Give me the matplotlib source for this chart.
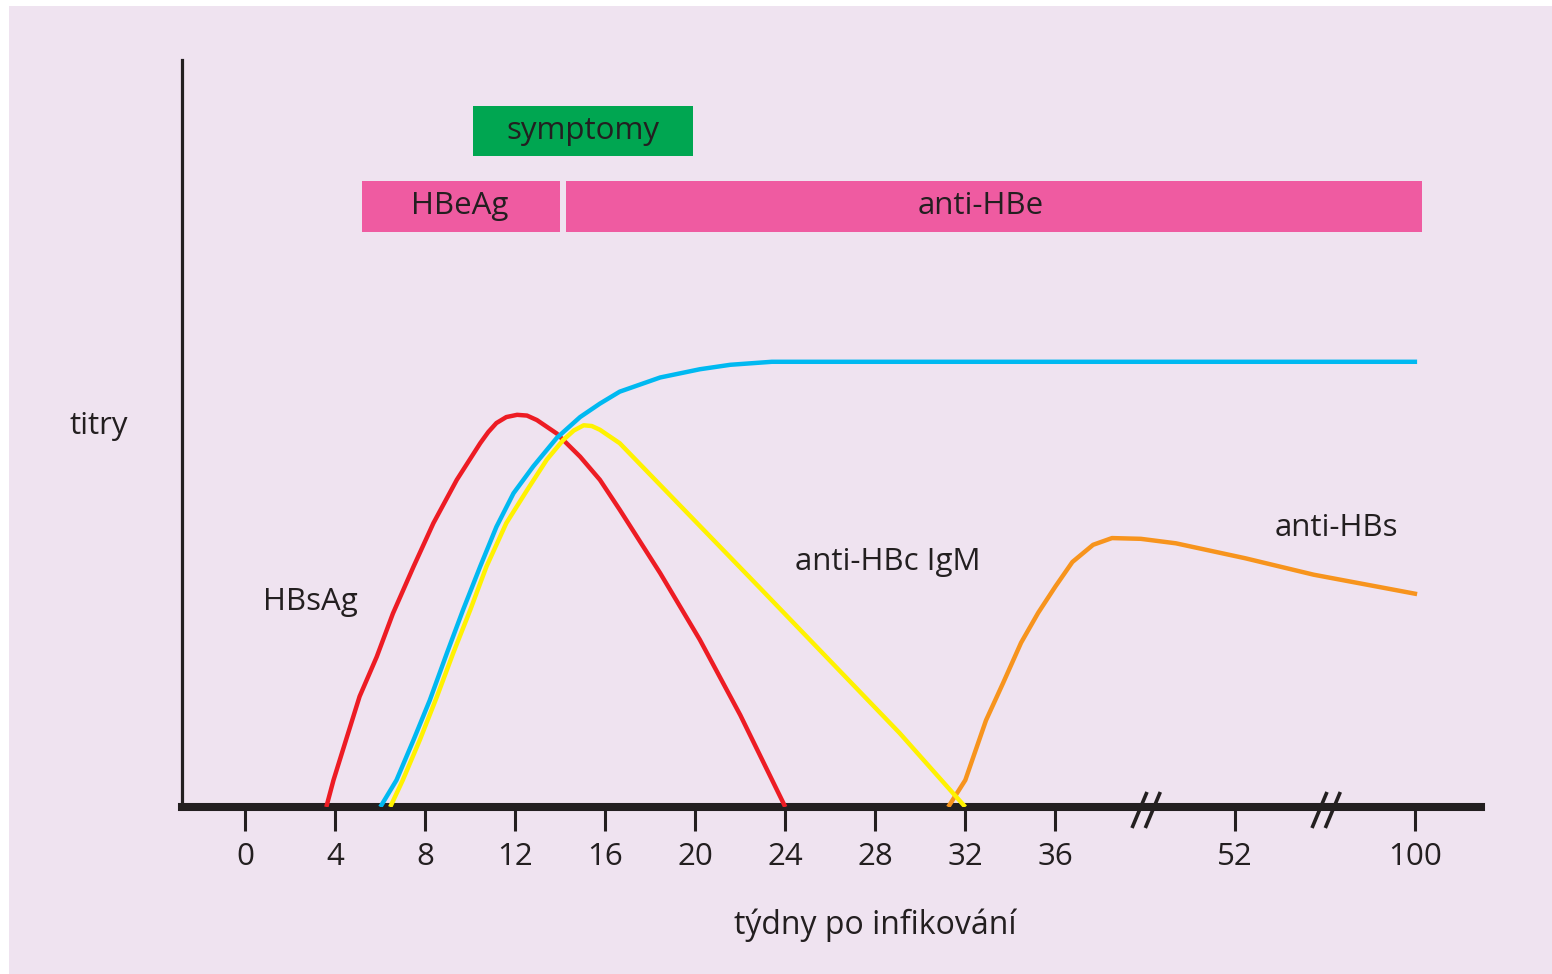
import matplotlib.pyplot as plt
from matplotlib.patches import Rectangle

plt.rcParams['font.family'] = ['Open Sans', 'DejaVu Sans']

# x is in axis-slot units (the axis is broken after 36 weeks), y is relative titre 0-100
tick_pos = [0, 1, 2, 3, 4, 5, 6, 7, 8, 9, 11, 13]
tick_labels = ['0', '4', '8', '12', '16', '20', '24', '28', '32', '36', '52', '100']
break_pos = [10, 12]

hbsag_x = [0.90, 0.98, 1.13, 1.27, 1.46, 1.64, 1.87, 2.09, 2.35, 2.61, 2.70, 2.79, 2.90,
           3.02, 3.13, 3.24, 3.46, 3.72, 3.94, 4.16, 4.61, 5.05, 5.50, 6.00]
hbsag_y = [0, 3.6, 9.4, 14.8, 20.1, 25.9, 32.2, 38.0, 43.8, 48.7, 50.2, 51.4, 52.2,
           52.5, 52.4, 51.8, 50.0, 46.9, 43.8, 39.8, 31.3, 22.4, 12.3, 0]

antihbc_x = [1.50, 1.68, 1.87, 2.05, 2.24, 2.42, 2.61, 2.79, 2.98, 3.20, 3.46, 3.72, 3.94,
             4.16, 4.61, 5.05, 5.39, 5.85, 13.02]
antihbc_y = [0, 3.6, 9.0, 14.3, 20.6, 26.4, 32.2, 37.5, 42.0, 45.6, 49.4, 52.2, 54.0,
             55.6, 57.5, 58.6, 59.2, 59.6, 59.6]

igm_x = [1.61, 1.75, 1.94, 2.13, 2.31, 2.50, 2.68, 2.90, 3.13, 3.35, 3.53, 3.65, 3.76,
         3.85, 3.94, 4.16, 5.72, 7.27, 8.00]
igm_y = [0, 3.6, 9.0, 14.8, 20.6, 26.4, 32.2, 38.0, 42.4, 46.5, 49.1, 50.4, 51.1,
         51.0, 50.5, 48.7, 29.3, 9.9, 0]

antihbs_x = [7.81, 8.00, 8.23, 8.42, 8.62, 8.81, 9.00, 9.19, 9.42, 9.63, 9.95, 10.34,
             11.11, 11.87, 13.02]
antihbs_y = [0, 3.6, 11.6, 16.6, 22.0, 26.0, 29.5, 32.8, 35.1, 36.0, 35.9, 35.3,
             33.3, 31.1, 28.5]

bar_labels = ['symptomy', 'HBeAg', 'anti-HBe']
bar_start = [2.53, 1.30, 3.56]
bar_end = [4.97, 3.50, 13.07]
bar_text_x = [3.75, 2.38, 8.17]
bar_row = [90.5, 80.4, 80.4]
bar_colors = ['#00A651', '#EF5BA1', '#EF5BA1']

bg = '#EFE3F0'
ink = '#231F20'
fs = 22.5

W, H = 1552, 974
fig = plt.figure(figsize=(15.52, 9.74), dpi=100)
fig.patch.set_facecolor('white')
fig.patches.append(Rectangle((9 / W, 0), 1, 1 - 6 / H, transform=fig.transFigure,
                             facecolor=bg, edgecolor='none', zorder=-10))

ax = fig.add_axes([182 / W, (H - 807) / H, (1481 - 182) / W, (807 - 60) / H])
ax.patch.set_alpha(0)
ax.set_xlim((182 - 245.3) / 90, (1481 - 245.3) / 90)
ax.set_ylim(0, 100)

for s in ['top', 'right']:
    ax.spines[s].set_visible(False)
ax.spines['left'].set_linewidth(2.3)
ax.spines['left'].set_color(ink)
ax.spines['bottom'].set_linewidth(5.8)
ax.spines['bottom'].set_color(ink)
ax.spines['bottom'].set_zorder(1)

ax.set_xticks(tick_pos)
ax.set_xticklabels(tick_labels)
ax.set_yticks([])
ax.tick_params(axis='x', length=17, width=2.2, color=ink, pad=8,
               labelsize=fs, labelcolor=ink)

lw = 3.2
style = dict(lw=lw, solid_capstyle='butt', solid_joinstyle='round')
ax.plot(hbsag_x, hbsag_y, color='#ED1C24', zorder=3, **style)
ax.plot(igm_x, igm_y, color='#FFF200', zorder=4, **style)
ax.plot(antihbc_x, antihbc_y, color='#00B9F1', zorder=3, **style)
ax.plot(antihbs_x, antihbs_y, color='#F7941D', zorder=3, **style)

bar_h = 6.8
for lab, x0, x1, tx, yr, c in zip(bar_labels, bar_start, bar_end, bar_text_x, bar_row, bar_colors):
    ax.barh(yr, x1 - x0, left=x0, height=bar_h, color=c, edgecolor='none')
    ax.text(tx, yr, lab, ha='center', va='center', fontsize=fs, color=ink)

# axis break marks: two slanted strokes per break
for bp in break_pos:
    for off in (-13.3, 0.0):
        ax.plot([bp + off / 90, bp + (off + 15) / 90], [-21 / 7.47, 15 / 7.47],
                color=ink, lw=2.6, solid_capstyle='butt', zorder=5, clip_on=False)

ax.text(-1.63, 51.0, 'titry', ha='center', va='center', fontsize=fs, color=ink, clip_on=False)
ax.text(0.72, 27.5, 'HBsAg', ha='center', va='center', fontsize=fs, color=ink)
ax.text(7.14, 32.8, 'anti-HBc IgM', ha='center', va='center', fontsize=fs, color=ink)
ax.text(12.12, 37.3, 'anti-HBs', ha='center', va='center', fontsize=fs, color=ink)
ax.text(7.0, -15.8, 'týdny po infikování', ha='center', va='center', fontsize=23,
        color=ink, clip_on=False)

fig.savefig('out.png', dpi=100, facecolor=fig.get_facecolor())
